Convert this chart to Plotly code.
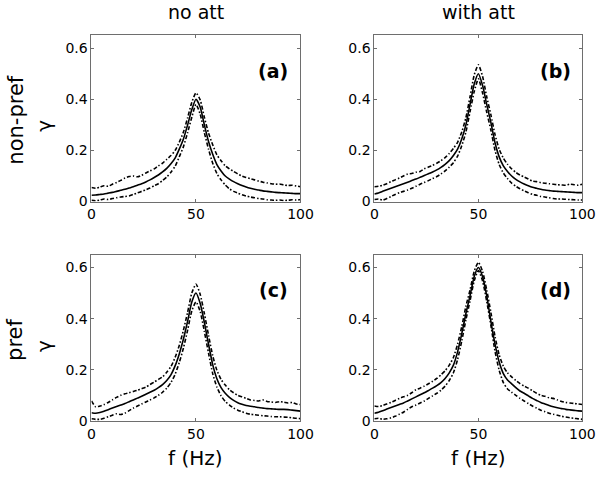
import plotly.graph_objects as go

W, H = 609, 481

freq = [0, 2, 4, 6, 8, 10, 12, 14, 16, 18, 20, 22, 24, 26, 28, 30, 32, 34, 36, 38,
        40, 42, 44, 46, 48, 50, 52, 54, 56, 58, 60, 62, 64, 66, 68, 70, 72, 74, 76, 78,
        80, 82, 84, 86, 88, 90, 92, 94, 96, 98, 100]

# (a) non-pref, no att
mean_a = [0.025, 0.026, 0.028, 0.030, 0.033, 0.036, 0.040, 0.044, 0.048, 0.053,
          0.058, 0.064, 0.070, 0.077, 0.085, 0.094, 0.104, 0.116, 0.130, 0.148,
          0.170, 0.205, 0.245, 0.300, 0.360, 0.400, 0.370, 0.300, 0.235, 0.185,
          0.145, 0.120, 0.100, 0.088, 0.078, 0.070, 0.063, 0.057, 0.052, 0.048,
          0.045, 0.042, 0.040, 0.038, 0.036, 0.035, 0.034, 0.033, 0.032, 0.031, 0.031]
upper_a = [0.055, 0.052, 0.057, 0.062, 0.060, 0.068, 0.075, 0.083, 0.092, 0.098,
           0.100, 0.097, 0.103, 0.112, 0.120, 0.128, 0.140, 0.150, 0.165, 0.180,
           0.200, 0.232, 0.272, 0.328, 0.388, 0.425, 0.398, 0.330, 0.268, 0.222,
           0.183, 0.160, 0.140, 0.128, 0.118, 0.108, 0.100, 0.094, 0.090, 0.085,
           0.080, 0.076, 0.073, 0.070, 0.068, 0.069, 0.065, 0.063, 0.064, 0.061, 0.058]
lower_a = [0.005, 0.003, 0.006, 0.010, 0.008, 0.012, 0.015, 0.018, 0.020, 0.022,
           0.028, 0.034, 0.040, 0.046, 0.053, 0.062, 0.070, 0.082, 0.096, 0.115,
           0.138, 0.175, 0.215, 0.270, 0.330, 0.380, 0.342, 0.270, 0.205, 0.150,
           0.110, 0.085, 0.065, 0.050, 0.040, 0.033, 0.027, 0.022, 0.018, 0.015,
           0.012, 0.010, 0.007, 0.006, 0.005, 0.006, 0.004, 0.005, 0.007, 0.006, 0.008]

# (b) non-pref, with att
mean_b = [0.030, 0.034, 0.040, 0.046, 0.052, 0.058, 0.064, 0.070, 0.076, 0.082,
          0.088, 0.095, 0.102, 0.109, 0.116, 0.124, 0.134, 0.146, 0.160, 0.180,
          0.205, 0.245, 0.300, 0.380, 0.460, 0.500, 0.455, 0.380, 0.310, 0.230,
          0.175, 0.140, 0.118, 0.100, 0.087, 0.077, 0.069, 0.062, 0.056, 0.052,
          0.048, 0.045, 0.043, 0.041, 0.040, 0.039, 0.038, 0.037, 0.036, 0.035, 0.035]
upper_b = [0.058, 0.060, 0.064, 0.070, 0.078, 0.085, 0.092, 0.100, 0.108, 0.110,
           0.115, 0.118, 0.128, 0.135, 0.142, 0.150, 0.160, 0.172, 0.188, 0.208,
           0.232, 0.272, 0.328, 0.410, 0.495, 0.535, 0.490, 0.410, 0.340, 0.262,
           0.205, 0.170, 0.146, 0.128, 0.114, 0.104, 0.096, 0.088, 0.080, 0.078,
           0.074, 0.072, 0.070, 0.068, 0.066, 0.065, 0.064, 0.068, 0.066, 0.064, 0.068]
lower_b = [0.008, 0.010, 0.006, 0.012, 0.020, 0.028, 0.035, 0.040, 0.045, 0.052,
           0.060, 0.068, 0.075, 0.082, 0.090, 0.098, 0.108, 0.120, 0.135, 0.152,
           0.178, 0.218, 0.272, 0.352, 0.430, 0.480, 0.425, 0.350, 0.280, 0.200,
           0.145, 0.112, 0.090, 0.072, 0.060, 0.050, 0.042, 0.035, 0.028, 0.025,
           0.020, 0.018, 0.015, 0.012, 0.010, 0.010, 0.009, 0.008, 0.007, 0.006, 0.006]

# (c) pref, no att
mean_c = [0.032, 0.030, 0.033, 0.038, 0.044, 0.050, 0.056, 0.062, 0.068, 0.075,
          0.082, 0.089, 0.096, 0.104, 0.112, 0.120, 0.130, 0.142, 0.158, 0.180,
          0.215, 0.262, 0.320, 0.390, 0.465, 0.500, 0.460, 0.385, 0.300, 0.220,
          0.165, 0.130, 0.108, 0.092, 0.080, 0.071, 0.065, 0.060, 0.057, 0.055,
          0.052, 0.050, 0.048, 0.047, 0.046, 0.045, 0.045, 0.044, 0.042, 0.040, 0.038]
upper_c = [0.078, 0.055, 0.058, 0.064, 0.072, 0.082, 0.092, 0.100, 0.106, 0.110,
           0.115, 0.120, 0.126, 0.132, 0.142, 0.152, 0.162, 0.172, 0.190, 0.212,
           0.248, 0.295, 0.355, 0.425, 0.500, 0.535, 0.495, 0.420, 0.335, 0.255,
           0.198, 0.162, 0.140, 0.122, 0.110, 0.100, 0.094, 0.088, 0.082, 0.080,
           0.078, 0.082, 0.076, 0.074, 0.072, 0.075, 0.073, 0.070, 0.072, 0.066, 0.064]
lower_c = [0.008, 0.006, 0.006, 0.010, 0.016, 0.022, 0.028, 0.025, 0.030, 0.040,
           0.050, 0.058, 0.066, 0.074, 0.082, 0.090, 0.100, 0.112, 0.128, 0.150,
           0.182, 0.228, 0.285, 0.355, 0.430, 0.465, 0.428, 0.350, 0.265, 0.185,
           0.132, 0.098, 0.076, 0.062, 0.050, 0.042, 0.036, 0.030, 0.026, 0.024,
           0.022, 0.020, 0.019, 0.017, 0.016, 0.016, 0.015, 0.014, 0.012, 0.010, 0.009]

# (d) pref, with att
mean_d = [0.030, 0.034, 0.040, 0.046, 0.052, 0.058, 0.064, 0.070, 0.078, 0.086,
          0.094, 0.102, 0.110, 0.119, 0.128, 0.138, 0.150, 0.166, 0.188, 0.218,
          0.270, 0.340, 0.420, 0.490, 0.565, 0.600, 0.565, 0.490, 0.390, 0.300,
          0.230, 0.185, 0.160, 0.145, 0.130, 0.117, 0.108, 0.098, 0.088, 0.080,
          0.072, 0.066, 0.060, 0.055, 0.051, 0.048, 0.045, 0.043, 0.041, 0.039, 0.038]
upper_d = [0.058, 0.056, 0.060, 0.066, 0.072, 0.080, 0.088, 0.094, 0.100, 0.110,
           0.122, 0.128, 0.136, 0.145, 0.155, 0.166, 0.180, 0.196, 0.218, 0.248,
           0.300, 0.368, 0.448, 0.512, 0.585, 0.620, 0.585, 0.512, 0.425, 0.330,
           0.258, 0.214, 0.188, 0.172, 0.158, 0.146, 0.136, 0.128, 0.118, 0.108,
           0.100, 0.096, 0.090, 0.088, 0.082, 0.076, 0.072, 0.070, 0.068, 0.066, 0.064]
lower_d = [0.008, 0.010, 0.006, 0.008, 0.012, 0.018, 0.026, 0.034, 0.045, 0.055,
           0.062, 0.070, 0.078, 0.088, 0.098, 0.108, 0.120, 0.136, 0.158, 0.188,
           0.240, 0.312, 0.395, 0.470, 0.548, 0.588, 0.548, 0.468, 0.375, 0.272,
           0.198, 0.150, 0.125, 0.112, 0.100, 0.088, 0.078, 0.068, 0.058, 0.050,
           0.042, 0.036, 0.030, 0.026, 0.022, 0.018, 0.015, 0.012, 0.010, 0.008, 0.006]

panel_labels = ["(a)", "(b)", "(c)", "(d)"]
col_titles = ["no att", "with att"]
row_titles = ["non-pref", "pref"]
y_label = "γ"
x_label = "f (Hz)"
x_ticks = [0, 50, 100]
y_ticks = [0, 0.2, 0.4, 0.6]
y_ticklabels = ["0", "0.2", "0.4", "0.6"]

panels = [(mean_a, upper_a, lower_a), (mean_b, upper_b, lower_b),
          (mean_c, upper_c, lower_c), (mean_d, upper_d, lower_d)]

# pixel boxes (left, right, top, bottom)
boxes = [(90, 305, 36, 205), (381, 595, 36, 205),
         (90, 305, 259, 428), (381, 595, 259, 428)]

def px(x):
    return x / W

def py(y):
    return 1 - y / H

FONT = "DejaVu Sans, Liberation Sans, Arial, sans-serif"
fig = go.Figure()
layout = {}
for i, ((m, u, l), (x0, x1, y0, y1)) in enumerate(zip(panels, boxes)):
    n = "" if i == 0 else str(i + 1)
    xa, ya = "x" + n, "y" + n
    for series, dash in ((u, "4px,2px,1.5px,2px"), (l, "4px,2px,1.5px,2px"), (m, "solid")):
        fig.add_trace(go.Scatter(x=freq, y=series, mode="lines", xaxis=xa, yaxis=ya,
                                 line=dict(color="black", width=1.6, dash=dash,
                                           shape="spline", smoothing=0.6),
                                 showlegend=False, hoverinfo="skip"))
    common = dict(showline=True, linecolor="#6e6e6e", linewidth=1, mirror="allticks",
                  ticks="inside", ticklen=3, tickcolor="#6e6e6e", showgrid=False,
                  zeroline=False, tickfont=dict(family=FONT, size=14, color="black"))
    layout["xaxis" + n] = dict(domain=[px(x0), px(x1)], range=[0, 100], anchor=ya,
                               tickvals=x_ticks, **common)
    layout["yaxis" + n] = dict(domain=[py(y1), py(y0)], range=[0, 0.65], anchor=xa,
                               tickvals=y_ticks, ticktext=y_ticklabels, **common)

fig.update_layout(**layout)

def text(t, x, y, size=20, angle=0):
    return dict(text=t, x=px(x), y=py(y), xref="paper", yref="paper",
                xanchor="center", yanchor="middle", textangle=angle, showarrow=False,
                font=dict(family=FONT, size=size, color="black"))

ann = []
for i, (x0, x1, y0, y1) in enumerate(boxes):
    ann.append(text("<b>" + panel_labels[i] + "</b>", x1 - 28, y0 + 36, size=19))
for j, cx in enumerate([197, 488]):
    ann.append(text(col_titles[j], cx, 12, size=19))
    ann.append(text(x_label, cx, 466))
for r, cy in enumerate([122, 346]):
    ann.append(text(row_titles[r], 12, cy, size=21, angle=-90))
    ann.append(text(y_label, 41, cy + 6, size=20, angle=-90))

fig.update_layout(width=W, height=H, margin=dict(l=0, r=0, t=0, b=0),
                  paper_bgcolor="white", plot_bgcolor="white", annotations=ann)
fig.write_html("out.html", config={"displayModeBar": False},
               post_script="document.body.style.margin='0';document.body.style.padding='0';")
